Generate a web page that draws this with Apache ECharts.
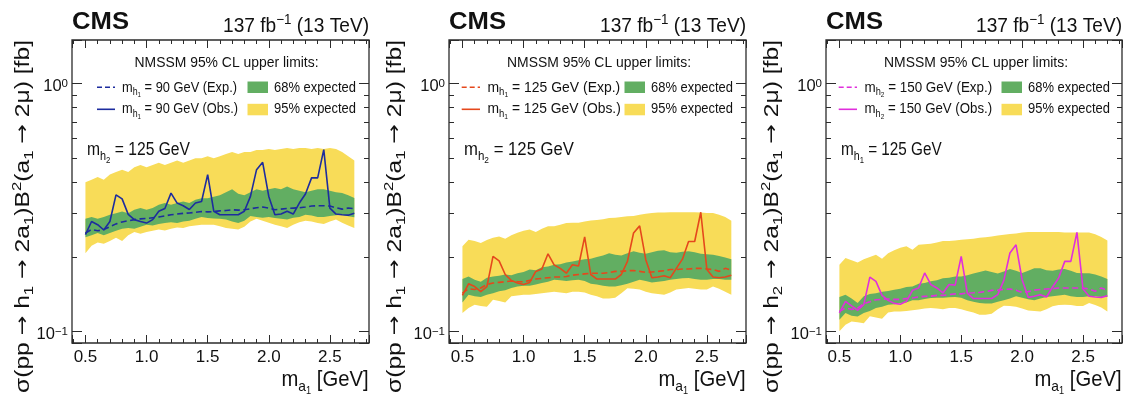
<!DOCTYPE html>
<html>
<head>
<meta charset="utf-8">
<script src="https://cdn.jsdelivr.net/npm/echarts@6.0.0/dist/echarts.min.js"></script>
<style>
  html, body { margin: 0; padding: 0; background: #ffffff; }
  #chart { width: 1137px; height: 395px; }
</style>
</head>
<body>
<div id="chart"></div>
<script>
// ---- data ---------------------------------------------------------------
// a1 mass points (GeV)
const massA1 = [0.50, 0.55, 0.60, 0.65, 0.70, 0.75, 0.80, 0.85, 0.90, 0.95,
                1.00, 1.05, 1.10, 1.15, 1.20, 1.25, 1.30, 1.35, 1.40, 1.45,
                1.50, 1.55, 1.60, 1.65, 1.70, 1.75, 1.80, 1.85, 1.90, 1.95,
                2.00, 2.05, 2.10, 2.15, 2.20, 2.25, 2.30, 2.35, 2.40, 2.45,
                2.50, 2.55, 2.60, 2.65, 2.70];

// m_h1 = 90 GeV, m_h2 = 125 GeV
const obs90 = [0.246, 0.278, 0.270, 0.257, 0.278, 0.356, 0.343, 0.297, 0.283, 0.278,
               0.274, 0.283, 0.306, 0.314, 0.362, 0.330, 0.322, 0.311, 0.330, 0.335,
               0.430, 0.306, 0.296, 0.296, 0.296, 0.296, 0.306, 0.351, 0.450, 0.482,
               0.351, 0.296, 0.298, 0.306, 0.298, 0.330, 0.359, 0.417, 0.417, 0.542,
               0.315, 0.298, 0.296, 0.295, 0.300];
const exp90 = [0.250, 0.258, 0.255, 0.258, 0.265, 0.272, 0.277, 0.280, 0.283, 0.285,
               0.286, 0.288, 0.290, 0.293, 0.296, 0.298, 0.300, 0.301, 0.303, 0.305,
               0.304, 0.305, 0.307, 0.308, 0.310, 0.309, 0.310, 0.313, 0.316, 0.318,
               0.315, 0.310, 0.312, 0.314, 0.315, 0.316, 0.318, 0.321, 0.322, 0.322,
               0.321, 0.316, 0.312, 0.315, 0.313];
const lo68_90 = [0.240, 0.245, 0.250, 0.245, 0.250, 0.255, 0.260, 0.262, 0.260, 0.265,
                 0.270, 0.268, 0.272, 0.274, 0.276, 0.274, 0.278, 0.280, 0.285, 0.290,
                 0.287, 0.286, 0.285, 0.283, 0.278, 0.274, 0.280, 0.293, 0.290, 0.288,
                 0.290, 0.287, 0.285, 0.283, 0.288, 0.290, 0.296, 0.294, 0.290, 0.290,
                 0.293, 0.295, 0.296, 0.292, 0.289];
const hi68_90 = [0.285, 0.290, 0.285, 0.290, 0.296, 0.300, 0.305, 0.300, 0.310, 0.315,
                 0.310, 0.315, 0.325, 0.330, 0.325, 0.330, 0.335, 0.330, 0.340, 0.345,
                 0.345, 0.350, 0.355, 0.365, 0.375, 0.360, 0.355, 0.365, 0.375, 0.370,
                 0.375, 0.380, 0.375, 0.385, 0.375, 0.370, 0.365, 0.370, 0.375, 0.375,
                 0.370, 0.365, 0.362, 0.355, 0.346];
const lo95_90 = [0.207, 0.222, 0.229, 0.226, 0.232, 0.239, 0.232, 0.245, 0.252, 0.248,
                 0.252, 0.255, 0.258, 0.256, 0.260, 0.263, 0.262, 0.266, 0.268, 0.270,
                 0.270, 0.270, 0.266, 0.262, 0.260, 0.258, 0.265, 0.278, 0.285, 0.280,
                 0.275, 0.270, 0.266, 0.262, 0.270, 0.276, 0.280, 0.278, 0.274, 0.272,
                 0.278, 0.283, 0.275, 0.268, 0.262];
const hi95_90 = [0.400, 0.410, 0.420, 0.410, 0.430, 0.440, 0.450, 0.440, 0.460, 0.470,
                 0.460, 0.470, 0.480, 0.470, 0.480, 0.490, 0.480, 0.490, 0.500, 0.500,
                 0.510, 0.500, 0.510, 0.520, 0.530, 0.520, 0.530, 0.530, 0.540, 0.540,
                 0.545, 0.540, 0.545, 0.550, 0.545, 0.550, 0.550, 0.545, 0.550, 0.545,
                 0.550, 0.545, 0.530, 0.510, 0.490];

// m_h1 = 125 GeV, m_h2 = 125 GeV
const obs125 = [0.140, 0.156, 0.152, 0.145, 0.152, 0.201, 0.193, 0.170, 0.161, 0.157,
                0.155, 0.158, 0.175, 0.179, 0.206, 0.186, 0.180, 0.172, 0.186, 0.184,
                0.241, 0.170, 0.163, 0.163, 0.163, 0.163, 0.170, 0.192, 0.250, 0.267,
                0.195, 0.165, 0.166, 0.168, 0.165, 0.180, 0.196, 0.231, 0.231, 0.303,
                0.178, 0.166, 0.165, 0.166, 0.169];
const exp125 = [0.143, 0.149, 0.148, 0.150, 0.155, 0.157, 0.158, 0.159, 0.160, 0.159,
                0.159, 0.161, 0.163, 0.164, 0.165, 0.166, 0.166, 0.167, 0.169, 0.170,
                0.171, 0.172, 0.172, 0.172, 0.173, 0.175, 0.175, 0.176, 0.1765, 0.175,
                0.1735, 0.174, 0.175, 0.176, 0.178, 0.178, 0.179, 0.179, 0.180, 0.180,
                0.179, 0.178, 0.175, 0.180, 0.177];
const lo68_125 = [0.131, 0.141, 0.139, 0.138, 0.141, 0.143, 0.1455, 0.147, 0.150, 0.152,
                  0.153, 0.153, 0.155, 0.157, 0.159, 0.162, 0.161, 0.160, 0.161, 0.162,
                  0.160, 0.156, 0.155, 0.153, 0.152, 0.152, 0.154, 0.156, 0.159, 0.162,
                  0.160, 0.158, 0.159, 0.160, 0.162, 0.163, 0.164, 0.1646, 0.163, 0.162,
                  0.162, 0.163, 0.163, 0.162, 0.162];
const hi68_125 = [0.163, 0.167, 0.162, 0.159, 0.165, 0.167, 0.168, 0.170, 0.169, 0.172,
                  0.174, 0.178, 0.177, 0.182, 0.183, 0.186, 0.187, 0.190, 0.192, 0.194,
                  0.196, 0.197, 0.200, 0.203, 0.207, 0.204, 0.203, 0.207, 0.211, 0.208,
                  0.206, 0.209, 0.212, 0.213, 0.209, 0.208, 0.210, 0.211, 0.209, 0.206,
                  0.205, 0.204, 0.202, 0.199, 0.196];
const lo95_125 = [0.119, 0.1245, 0.1285, 0.127, 0.126, 0.1345, 0.133, 0.131, 0.1388, 0.140,
                  0.141, 0.141, 0.142, 0.143, 0.144, 0.145, 0.144, 0.143, 0.145, 0.145,
                  0.144, 0.141, 0.139, 0.136, 0.136, 0.137, 0.143, 0.1498, 0.149, 0.148,
                  0.145, 0.143, 0.142, 0.141, 0.144, 0.148, 0.149, 0.150, 0.149, 0.148,
                  0.148, 0.152, 0.149, 0.145, 0.141];
const hi95_125 = [0.221, 0.235, 0.232, 0.228, 0.234, 0.239, 0.242, 0.237, 0.245, 0.2505,
                  0.255, 0.258, 0.252, 0.260, 0.266, 0.266, 0.270, 0.274, 0.275, 0.275,
                  0.278, 0.281, 0.282, 0.284, 0.287, 0.288, 0.290, 0.292, 0.293, 0.296,
                  0.299, 0.301, 0.302, 0.302, 0.303, 0.303, 0.303, 0.303, 0.303, 0.302,
                  0.301, 0.301, 0.296, 0.290, 0.280];

// m_h2 = 150 GeV, m_h1 = 125 GeV
const obs150 = [0.119, 0.1325, 0.127, 0.122, 0.1285, 0.166, 0.1595, 0.140, 0.1337, 0.130,
                0.129, 0.1325, 0.1468, 0.150, 0.1724, 0.155, 0.150, 0.1432, 0.155, 0.154,
                0.2012, 0.143, 0.136, 0.136, 0.136, 0.136, 0.141, 0.161, 0.2076, 0.224,
                0.162, 0.1375, 0.139, 0.141, 0.138, 0.1514, 0.1646, 0.192, 0.192, 0.2515,
                0.1486, 0.139, 0.138, 0.1375, 0.1397];
const exp150 = [0.1207, 0.1245, 0.123, 0.1245, 0.1297, 0.132, 0.1345, 0.135, 0.1355, 0.135,
                0.135, 0.136, 0.1366, 0.138, 0.1388, 0.139, 0.140, 0.140, 0.141, 0.142,
                0.142, 0.1432, 0.1435, 0.144, 0.145, 0.1467, 0.147, 0.148, 0.1486, 0.147,
                0.144, 0.145, 0.147, 0.148, 0.1486, 0.149, 0.150, 0.150, 0.150, 0.150,
                0.150, 0.1486, 0.1455, 0.150, 0.1467];
const lo68_150 = [0.1118, 0.119, 0.116, 0.115, 0.119, 0.121, 0.1245, 0.126, 0.1285, 0.129,
                  0.1305, 0.131, 0.1337, 0.134, 0.1355, 0.1366, 0.137, 0.137, 0.1375, 0.138,
                  0.137, 0.1337, 0.132, 0.1305, 0.130, 0.130, 0.132, 0.1337, 0.136, 0.1388,
                  0.137, 0.135, 0.1337, 0.136, 0.138, 0.139, 0.140, 0.141, 0.139, 0.138,
                  0.138, 0.139, 0.139, 0.138, 0.138];
const hi68_150 = [0.138, 0.141, 0.136, 0.1305, 0.139, 0.142, 0.143, 0.145, 0.146, 0.1477,
                  0.149, 0.1514, 0.152, 0.156, 0.157, 0.1595, 0.161, 0.164, 0.165, 0.167,
                  0.167, 0.169, 0.1715, 0.174, 0.1765, 0.174, 0.1715, 0.175, 0.179, 0.176,
                  0.1724, 0.176, 0.180, 0.180, 0.177, 0.176, 0.178, 0.179, 0.176, 0.1724,
                  0.172, 0.172, 0.170, 0.167, 0.163];
const lo95_150 = [0.1003, 0.1067, 0.1099, 0.109, 0.108, 0.1153, 0.114, 0.1128, 0.1196, 0.1205,
                  0.1207, 0.121, 0.122, 0.1227, 0.124, 0.1245, 0.124, 0.123, 0.1245, 0.1245,
                  0.123, 0.121, 0.1195, 0.117, 0.1171, 0.118, 0.123, 0.1273, 0.127, 0.126,
                  0.124, 0.1216, 0.121, 0.1207, 0.123, 0.1266, 0.128, 0.1285, 0.128, 0.127,
                  0.127, 0.1305, 0.128, 0.125, 0.1207];
const hi95_150 = [0.1863, 0.198, 0.194, 0.190, 0.196, 0.200, 0.204, 0.197, 0.207, 0.213,
                  0.218, 0.221, 0.214, 0.224, 0.225, 0.226, 0.229, 0.232, 0.232, 0.233,
                  0.235, 0.236, 0.237, 0.239, 0.240, 0.242, 0.244, 0.246, 0.2475, 0.249,
                  0.251, 0.252, 0.2525, 0.2525, 0.2525, 0.252, 0.252, 0.251, 0.251, 0.251,
                  0.251, 0.251, 0.247, 0.241, 0.233];

// axis tick labels
const xTickValues = [0.5, 1.0, 1.5, 2.0, 2.5];
const xTickLabels = ['0.5', '1.0', '1.5', '2.0', '2.5'];
const yTickValues = [0.1, 1];
const yTickLabels = ['10{e|\u22121}', '10{e|0}'];

// ---- styling ------------------------------------------------------------
const FONT = "'Liberation Sans', Arial, Helvetica, sans-serif";
const ARROW_FONT = "'DejaVu Sans', 'Liberation Sans', sans-serif";
const INK = '#111111';
const FRAME = '#2b2b2b';
const YELLOW = '#f8dc58';
const GREEN = '#62ae62';
const X_MIN = 0.39, X_MAX = 2.82, Y_MIN = 0.09, Y_MAX = 1.5;
const TOP = 40, HEIGHT = 303;

const panels = [
  { obs: obs90,  exp: exp90,  lo68: lo68_90,  hi68: hi68_90,  lo95: lo95_90,  hi95: hi95_90,
    color: '#1d2c9e', keyHiggs: '1', keyMass: '90',  noteHiggs: '2', prodHiggs: '1' },
  { obs: obs125, exp: exp125, lo68: lo68_125, hi68: hi68_125, lo95: lo95_125, hi95: hi95_125,
    color: '#e5481c', keyHiggs: '1', keyMass: '125', noteHiggs: '2', prodHiggs: '1' },
  { obs: obs150, exp: exp150, lo68: lo68_150, hi68: hi68_150, lo95: lo95_150, hi95: hi95_150,
    color: '#e02fdc', keyHiggs: '2', keyMass: '150', noteHiggs: '1', prodHiggs: '2' }
];
const layout = [
  { left: 72,  width: 297, yTitleX: 30, keyLine: [25, 43],   keyText: 50,   keyW: [115, 116],     titleC: 154.5, noteW: 103 },
  { left: 449, width: 297, yTitleX: 402, keyLine: [12.7, 31], keyText: 38.5, keyW: [132.7, 133.3], titleC: 150,   noteW: 110 },
  { left: 826, width: 296, yTitleX: 779, keyLine: [12.7, 31], keyText: 38.5, keyW: [127.7, 127.7], titleC: 150,   noteW: 100.7 }
];

// ---- text helper: runs of differently sized text on one baseline ---------
const mctx = document.createElement('canvas').getContext('2d');
function measure(t, size, weight, family) {
  mctx.font = (weight || 'normal') + ' ' + size + 'px ' + (family || FONT);
  return mctx.measureText(t).width;
}
function textRuns(runs, opt) {
  let cursor = 0;
  const kids = runs.map(r => {
    const el = {
      type: 'text', x: cursor, y: (r.dy || 0) - 0.3465 * r.s, silent: true,
      style: { text: r.t, fontSize: r.s, fontFamily: r.f || FONT, fontWeight: r.w || 'normal',
               fill: opt.color || INK, align: 'left', verticalAlign: 'middle' }
    };
    cursor += measure(r.t, r.s, r.w, r.f);
    return el;
  });
  const shift = opt.align === 'right' ? -cursor : (opt.align === 'center' ? -cursor / 2 : 0);
  kids.forEach(k => { k.x += shift; });
  return { type: 'group', x: opt.x, y: opt.y, rotation: opt.rotation || 0,
           scaleX: opt.width ? opt.width / cursor : 1, scaleY: opt.scaleY || 1,
           silent: true, children: kids };
}

function pickLabel(v, values, labels) {
  for (let k = 0; k < values.length; k++) {
    if (Math.abs(v - values[k]) < 1e-6 * Math.max(1, values[k])) return labels[k];
  }
  return '';
}

// Band between two limit curves: one closed polygon through the library's coordinates.
function bandRender(params, api) {
  if (params.dataIndexInside !== 0) return null;
  const n = params.dataInsideLength;
  const upper = [], lower = [];
  for (let k = 0; k < n; k++) {
    const m = api.value(0, k);
    upper.push(api.coord([m, api.value(2, k)]));
    lower.push(api.coord([m, api.value(1, k)]));
  }
  return {
    type: 'polygon',
    shape: { points: upper.concat(lower.reverse()) },
    style: { fill: api.visual('color'), stroke: null }
  };
}

// ---- option -------------------------------------------------------------
const tickStyle = { color: FRAME, width: 1 };
const grid = [], xAxis = [], yAxis = [], series = [], graphic = [];

panels.forEach((P, i) => {
  const L = layout[i];
  const gx = L.left, gr = L.left + L.width;
  grid.push({ left: gx, top: TOP, width: L.width, height: HEIGHT, show: true,
              borderColor: FRAME, borderWidth: 1.3, backgroundColor: 'transparent',
              containLabel: false, outerBoundsMode: 'none' });

  ['bottom', 'top'].forEach(pos => {
    xAxis.push({
      type: 'value', gridIndex: i, position: pos, min: X_MIN, max: X_MAX, splitNumber: 5,
      axisLine: { show: false },
      axisTick: { show: true, inside: true, length: 8, lineStyle: tickStyle },
      minorTick: { show: true, splitNumber: 5, length: 4, lineStyle: tickStyle },
      splitLine: { show: false }, minorSplitLine: { show: false },
      axisLabel: pos === 'bottom'
        ? { show: true, margin: 6, fontSize: 17, fontFamily: FONT, color: INK,
            showMinLabel: false, showMaxLabel: false,
            formatter: v => pickLabel(v, xTickValues, xTickLabels) }
        : { show: false }
    });
  });
  ['left', 'right'].forEach(pos => {
    yAxis.push({
      type: 'log', logBase: 10, gridIndex: i, position: pos, min: Y_MIN, max: Y_MAX,
      axisLine: { show: false },
      axisTick: { show: true, inside: true, length: 10, lineStyle: tickStyle },
      minorTick: { show: true, splitNumber: 9, length: 5, lineStyle: tickStyle },
      splitLine: { show: false }, minorSplitLine: { show: false },
      axisLabel: pos === 'left'
        ? { show: true, margin: 4, fontSize: 16.5, lineHeight: 17, fontFamily: FONT, color: INK,
            padding: [5, 0, 0, 0], showMinLabel: false, showMaxLabel: false,
            formatter: v => pickLabel(v, yTickValues, yTickLabels),
            rich: { e: { fontSize: 11.5, lineHeight: 11, verticalAlign: 'top', fontFamily: FONT, color: INK } } }
        : { show: false }
    });
  });

  const xi = 2 * i, yi = 2 * i;
  const pts = arr => massA1.map((m, k) => [m, arr[k]]);
  const band = (lo, hi) => massA1.map((m, k) => [m, lo[k], hi[k]]);
  const bandBase = { type: 'custom', xAxisIndex: xi, yAxisIndex: yi, silent: true, animation: false,
                     renderItem: bandRender, encode: { x: 0, y: [1, 2] } };
  series.push(Object.assign({}, bandBase, { name: '95% expected ' + i, data: band(P.lo95, P.hi95),
                itemStyle: { color: YELLOW }, z: 1 }));
  series.push(Object.assign({}, bandBase, { name: '68% expected ' + i, data: band(P.lo68, P.hi68),
                itemStyle: { color: GREEN }, z: 2 }));

  const lineBase = { type: 'line', xAxisIndex: xi, yAxisIndex: yi, symbol: 'none', silent: true,
                     animation: false, smooth: false };
  series.push(Object.assign({}, lineBase, { name: 'exp' + i, data: pts(P.exp), z: 3,
                lineStyle: { color: P.color, width: 1.6, type: [6, 3.5] } }));
  series.push(Object.assign({}, lineBase, { name: 'obs' + i, data: pts(P.obs), z: 4,
                lineStyle: { color: P.color, width: 1.6 } }));

  // header
  graphic.push(textRuns([{ t: 'CMS', s: 24, w: 'bold' }], { x: gx, y: 30.5, align: 'left', width: 57 }));
  graphic.push(textRuns([{ t: '137 fb', s: 20 }, { t: '\u22121', s: 14, dy: -8 }, { t: ' (13 TeV)', s: 20 }],
                        { x: gr, y: 33, align: 'right', width: 146 }));

  // y-axis title (reads bottom to top)
  const arrow = { t: '\u2192', s: 21, f: ARROW_FONT };
  graphic.push(textRuns([
    { t: '\u03c3(pp ', s: 22 }, arrow, { t: ' h', s: 22 }, { t: P.prodHiggs, s: 15, dy: 4 },
    { t: ' ', s: 22 }, arrow, { t: ' 2a', s: 22 }, { t: '1', s: 15, dy: 4 },
    { t: ')B', s: 22 }, { t: '2', s: 15, dy: -9 },
    { t: '(a', s: 22 }, { t: '1', s: 15, dy: 4 },
    { t: ' ', s: 22 }, arrow, { t: ' 2\u03bc) [fb]', s: 22 }
  ], { x: L.yTitleX, y: TOP, align: 'right', rotation: Math.PI / 2, width: 353, scaleY: 0.88 }));

  // x-axis title
  graphic.push(textRuns([{ t: 'm', s: 22 }, { t: 'a', s: 15, dy: 4 }, { t: '1', s: 10, dy: 7 }, { t: ' [GeV]', s: 22 }],
                        { x: gr - 0.5, y: 388, align: 'right', width: 87 }));

  // legend
  graphic.push(textRuns([{ t: 'NMSSM 95% CL upper limits:', s: 15 }],
                        { x: gx + L.titleC, y: 68.3, align: 'center', width: 184 }));
  const keyRows = [{ y: 87.3, label: 'Exp.', dash: [5, 3], baseline: 92.7 },
                   { y: 109.3, label: 'Obs.', dash: null, baseline: 114.3 }];
  keyRows.forEach((row, r) => {
    graphic.push({ type: 'line', silent: true,
                   shape: { x1: gx + L.keyLine[0], y1: row.y, x2: gx + L.keyLine[1], y2: row.y },
                   style: { stroke: P.color, lineWidth: 1.6, lineDash: row.dash } });
    graphic.push(textRuns([{ t: 'm', s: 14.5 }, { t: 'h', s: 10, dy: 3 }, { t: P.keyHiggs, s: 7, dy: 5 },
                           { t: ' = ' + P.keyMass + ' GeV (' + row.label + ')', s: 14.5 }],
                          { x: gx + L.keyText, y: row.baseline, align: 'left', width: L.keyW[r] }));
  });
  graphic.push({ type: 'rect', silent: true, shape: { x: gx + 175.5, y: 81.5, width: 20.5, height: 11.5 },
                 style: { fill: GREEN } });
  graphic.push({ type: 'rect', silent: true, shape: { x: gx + 175.5, y: 103.8, width: 20.5, height: 11.5 },
                 style: { fill: YELLOW } });
  graphic.push(textRuns([{ t: '68% expected', s: 14.5 }], { x: gx + 202, y: 92.7, align: 'left', width: 82 }));
  graphic.push(textRuns([{ t: '95% expected', s: 14.5 }], { x: gx + 202, y: 114.3, align: 'left', width: 82 }));

  // fixed-mass note
  graphic.push(textRuns([{ t: 'm', s: 18 }, { t: 'h', s: 12.5, dy: 4 }, { t: P.noteHiggs, s: 9, dy: 6.5 },
                         { t: ' = 125 GeV', s: 18 }],
                        { x: gx + 15, y: 156.7, align: 'left', width: L.noteW }));
});

const chart = echarts.init(document.getElementById('chart'), null, { renderer: 'canvas' });
chart.setOption({
  animation: false,
  backgroundColor: '#ffffff',
  grid, xAxis, yAxis, series, graphic
});
</script>
</body>
</html>
